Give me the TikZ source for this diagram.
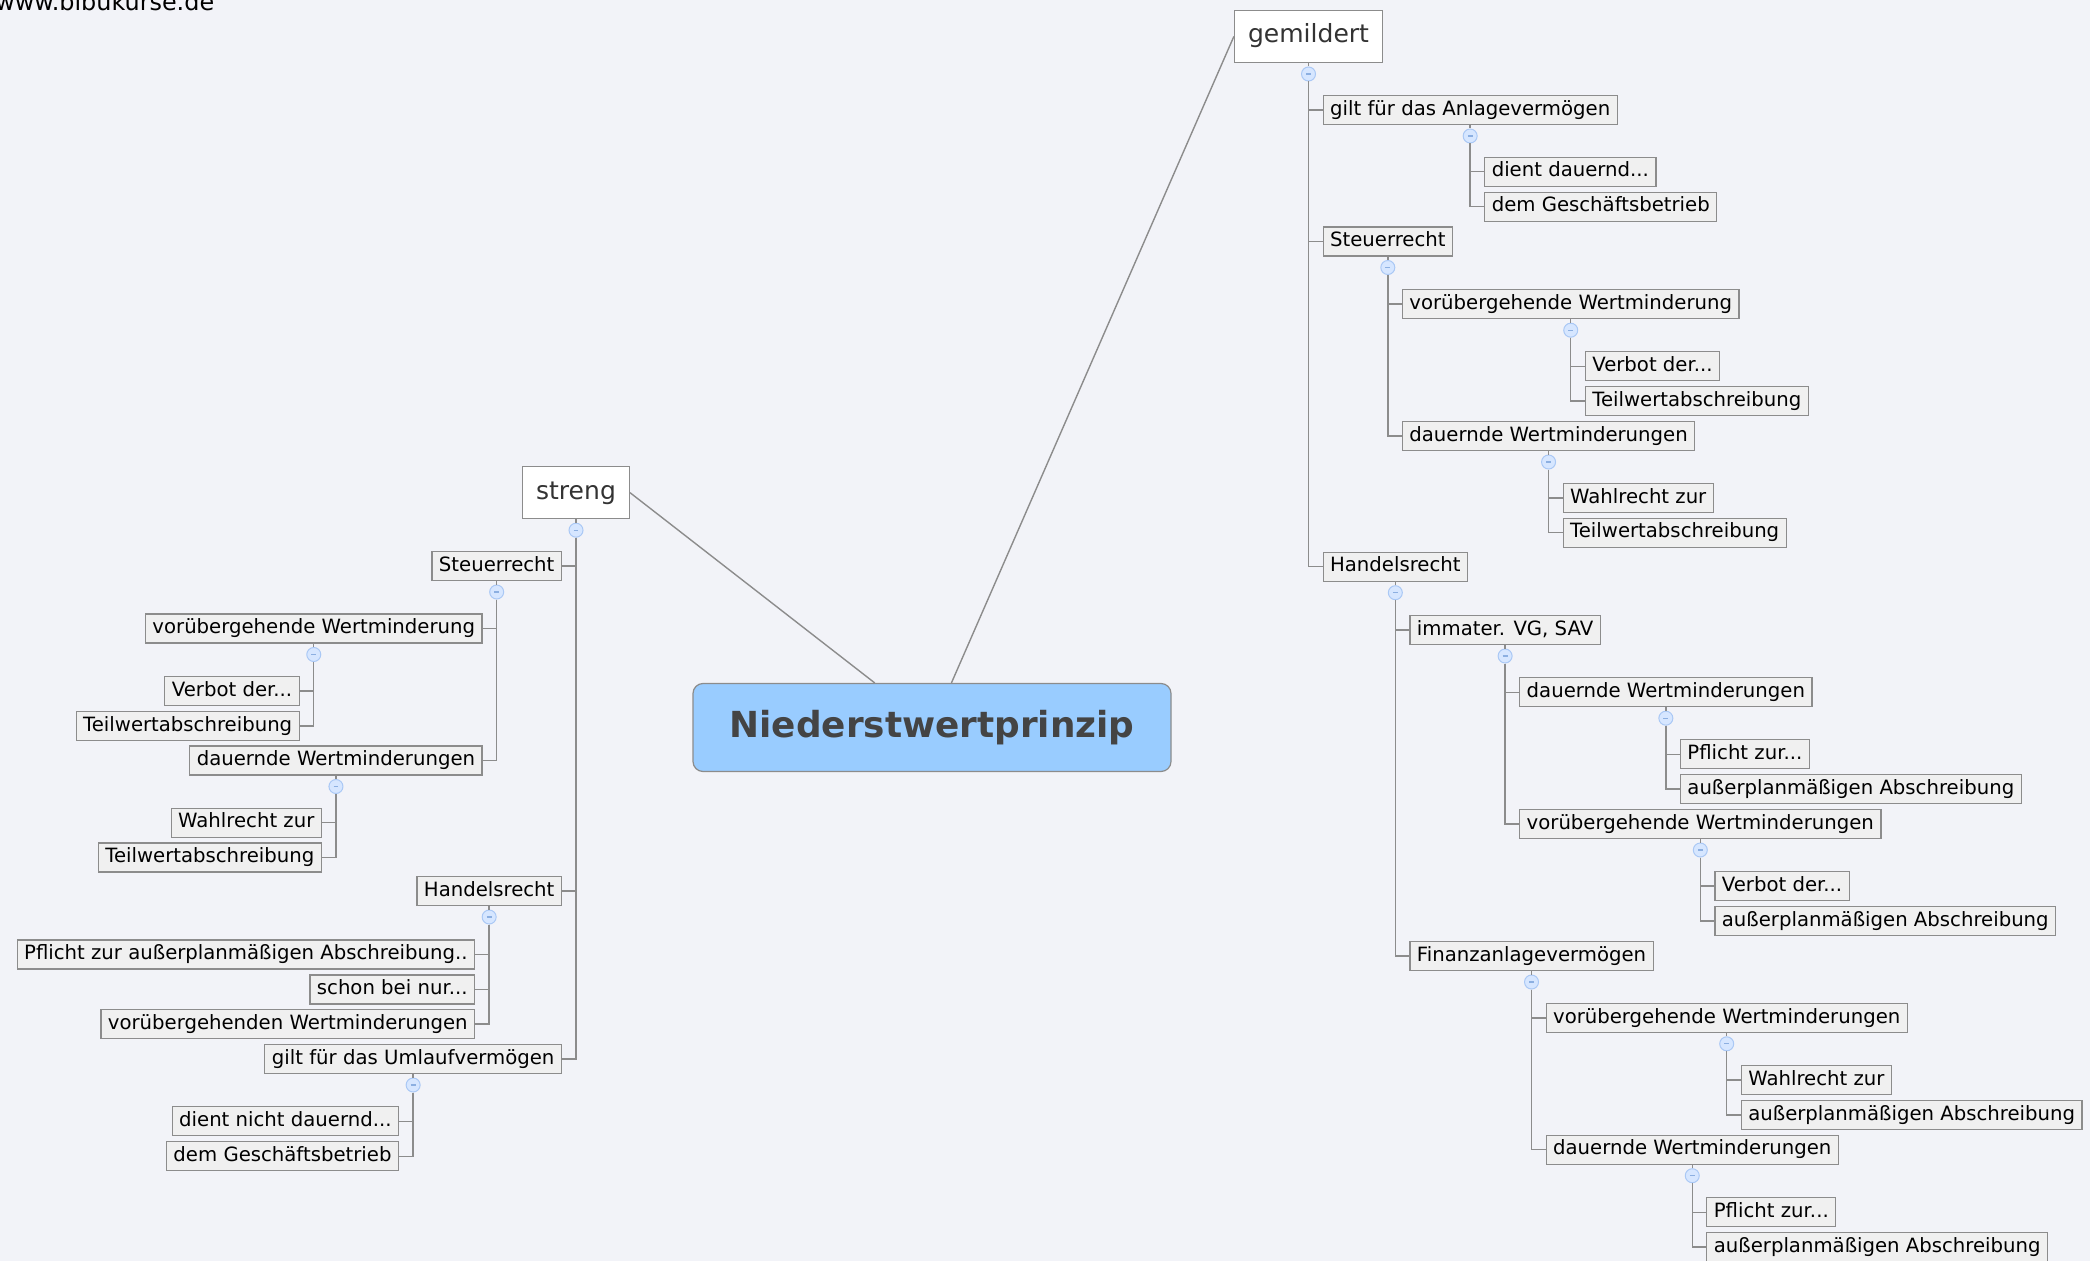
\documentclass[tikz,border=0pt]{standalone}
\usepackage{fontspec}
\setmainfont{DejaVu Sans}
\usetikzlibrary{positioning}
\definecolor{bgcol}{RGB}{242,243,248}
\definecolor{linecol}{RGB}{140,140,140}
\definecolor{leafcol}{RGB}{240,240,240}
\definecolor{rootcol}{RGB}{153,204,255}
\definecolor{roottext}{RGB}{68,68,68}
\definecolor{topictext}{RGB}{51,51,51}
\definecolor{foldcol}{RGB}{214,230,255}
\definecolor{foldline}{RGB}{170,200,245}
\definecolor{foldmark}{RGB}{140,175,225}
\tikzset{
    leaf/.style={draw=linecol, fill=leafcol, line width=0.3mm, inner xsep=1.75mm, inner ysep=0mm, minimum height=7.25mm, text height=3.7mm, text depth=1.1mm, font=\fontsize{14pt}{17pt}\selectfont},
    topic/.style={draw=linecol, fill=white, line width=0.3mm, inner xsep=3.4mm, inner ysep=0mm, minimum height=13mm, text height=4.7mm, text depth=1.5mm, text=topictext, font=\fontsize{17.8pt}{21pt}\selectfont},
    rootbox/.style={draw=linecol, fill=rootcol, rounded corners=2.5mm, line width=0.3mm, minimum width=119.5mm, minimum height=22mm, text=roottext, font=\fontsize{25.5pt}{30pt}\selectfont\bfseries},
    fold/.style={circle, draw=foldline, fill=foldcol, line width=0.25mm, minimum size=3.5mm, inner sep=0pt, path picture={\draw[foldmark, line width=0.3mm] ([xshift=-0.6mm]path picture bounding box.center) -- ([xshift=0.6mm]path picture bounding box.center);}},
    link/.style={draw=linecol, line width=0.35mm},
    weblabel/.style={anchor=base west, inner sep=0pt, font=\fontsize{17pt}{20pt}\selectfont}
}
\begin{document}
\begin{tikzpicture}[x=0.25mm, y=-0.25mm]
            \useasboundingbox (0,0) rectangle (2090,1261);
            \clip (0,0) rectangle (2090,1261);
            \fill[bgcol] (0,0) rectangle (2090,1261);

            \node[weblabel] (W) at (-5,11) {www.bibukurse.de};
            \node[rootbox] (N) at (932,727.5) {Niederstwertprinzip};
            \node[topic] (S) at (576,492.7) {streng};
            \node[topic] (G) at (1308.5,36.5) {gemildert};

            \node[fold, below=0.85mm of S] (FS) {};
            \node[leaf, anchor=east, xshift=-3.5mm] (S1) at (FS |- 0,566) {Steuerrecht};
            \node[fold, below=0.85mm of S1] (FS1) {};
            \node[leaf, anchor=east, xshift=-3.5mm] (S11) at (FS1 |- 0,628.5) {vorübergehende Wertminderung};
            \node[fold, below=0.85mm of S11] (FS11) {};
            \node[leaf, anchor=east, xshift=-3.5mm] (S111) at (FS11 |- 0,691) {Verbot der...};
            \node[leaf, anchor=east, xshift=-3.5mm] (S112) at (FS11 |- 0,726) {Teilwertabschreibung};
            \node[leaf, anchor=east, xshift=-3.5mm] (S12) at (FS1 |- 0,760.5) {dauernde Wertminderungen};
            \node[fold, below=0.85mm of S12] (FS12) {};
            \node[leaf, anchor=east, xshift=-3.5mm] (S121) at (FS12 |- 0,822.7) {Wahlrecht zur\ };
            \node[leaf, anchor=east, xshift=-3.5mm] (S122) at (FS12 |- 0,857.5) {Teilwertabschreibung};
            \node[leaf, anchor=east, xshift=-3.5mm] (S2) at (FS |- 0,891) {Handelsrecht};
            \node[fold, below=0.85mm of S2] (FS2) {};
            \node[leaf, anchor=east, xshift=-3.5mm] (S21) at (FS2 |- 0,954.5) {Pflicht zur außerplanmäßigen Abschreibung..};
            \node[leaf, anchor=east, xshift=-3.5mm] (S22) at (FS2 |- 0,989.5) {schon bei nur...};
            \node[leaf, anchor=east, xshift=-3.5mm] (S23) at (FS2 |- 0,1024) {vorübergehenden Wertminderungen};
            \node[leaf, anchor=east, xshift=-3.5mm] (S3) at (FS |- 0,1059) {gilt für das Umlaufvermögen};
            \node[fold, below=0.85mm of S3] (FS3) {};
            \node[leaf, anchor=east, xshift=-3.5mm] (S31) at (FS3 |- 0,1121.3) {dient nicht dauernd...};
            \node[leaf, anchor=east, xshift=-3.5mm] (S32) at (FS3 |- 0,1156.2) {dem Geschäftsbetrieb};

            \node[fold, below=0.85mm of G] (FG) {};
            \node[leaf, anchor=west, xshift=3.5mm] (G1) at (FG |- 0,110) {gilt für das Anlagevermögen};
            \node[fold, below=0.85mm of G1] (FG1) {};
            \node[leaf, anchor=west, xshift=3.5mm] (G11) at (FG1 |- 0,171.7) {dient dauernd...};
            \node[leaf, anchor=west, xshift=3.5mm] (G12) at (FG1 |- 0,206.7) {dem Geschäftsbetrieb};
            \node[leaf, anchor=west, xshift=3.5mm] (G2) at (FG |- 0,241.5) {Steuerrecht};
            \node[fold, below=0.85mm of G2] (FG2) {};
            \node[leaf, anchor=west, xshift=3.5mm] (G21) at (FG2 |- 0,304.2) {vorübergehende Wertminderung};
            \node[fold, below=0.85mm of G21] (FG21) {};
            \node[leaf, anchor=west, xshift=3.5mm] (G211) at (FG21 |- 0,366.2) {Verbot der...};
            \node[leaf, anchor=west, xshift=3.5mm] (G212) at (FG21 |- 0,401) {Teilwertabschreibung};
            \node[leaf, anchor=west, xshift=3.5mm] (G22) at (FG2 |- 0,436) {dauernde Wertminderungen};
            \node[fold, below=0.85mm of G22] (FG22) {};
            \node[leaf, anchor=west, xshift=3.5mm] (G221) at (FG22 |- 0,498) {Wahlrecht zur\ };
            \node[leaf, anchor=west, xshift=3.5mm] (G222) at (FG22 |- 0,532.7) {Teilwertabschreibung};
            \node[leaf, anchor=west, xshift=3.5mm] (G3) at (FG |- 0,566.7) {Handelsrecht};
            \node[fold, below=0.85mm of G3] (FG3) {};
            \node[leaf, anchor=west, xshift=3.5mm] (G31) at (FG3 |- 0,630) {immater. VG, SAV};
            \node[fold, below=0.85mm of G31] (FG31) {};
            \node[leaf, anchor=west, xshift=3.5mm] (G311) at (FG31 |- 0,692.2) {dauernde Wertminderungen};
            \node[fold, below=0.85mm of G311] (FG311) {};
            \node[leaf, anchor=west, xshift=3.5mm] (G3111) at (FG311 |- 0,754.3) {Pflicht zur...};
            \node[leaf, anchor=west, xshift=3.5mm] (G3112) at (FG311 |- 0,788.8) {außerplanmäßigen Abschreibung};
            \node[leaf, anchor=west, xshift=3.5mm] (G312) at (FG31 |- 0,824) {vorübergehende Wertminderungen};
            \node[fold, below=0.85mm of G312] (FG312) {};
            \node[leaf, anchor=west, xshift=3.5mm] (G3121) at (FG312 |- 0,886) {Verbot der...};
            \node[leaf, anchor=west, xshift=3.5mm] (G3122) at (FG312 |- 0,920.8) {außerplanmäßigen Abschreibung};
            \node[leaf, anchor=west, xshift=3.5mm] (G32) at (FG3 |- 0,956) {Finanzanlagevermögen};
            \node[fold, below=0.85mm of G32] (FG32) {};
            \node[leaf, anchor=west, xshift=3.5mm] (G321) at (FG32 |- 0,1017.8) {vorübergehende Wertminderungen};
            \node[fold, below=0.85mm of G321] (FG321) {};
            \node[leaf, anchor=west, xshift=3.5mm] (G3211) at (FG321 |- 0,1080) {Wahlrecht zur\ };
            \node[leaf, anchor=west, xshift=3.5mm] (G3212) at (FG321 |- 0,1115) {außerplanmäßigen Abschreibung};
            \node[leaf, anchor=west, xshift=3.5mm] (G322) at (FG32 |- 0,1149.7) {dauernde Wertminderungen};
            \node[fold, below=0.85mm of G322] (FG322) {};
            \node[leaf, anchor=west, xshift=3.5mm] (G3221) at (FG322 |- 0,1212.2) {Pflicht zur...};
            \node[leaf, anchor=west, xshift=3.5mm] (G3222) at (FG322 |- 0,1247) {außerplanmäßigen Abschreibung};

            \draw[link] (S.east) -- (N); \draw[link] (G.west) -- (N);
            \draw[link] (S) -- (FS); \draw[link] (FS) |- (S1.east); \draw[link] (FS) |- (S2.east); \draw[link] (FS) |- (S3.east);
            \draw[link] (S1) -- (FS1); \draw[link] (FS1) |- (S11.east); \draw[link] (FS1) |- (S12.east);
            \draw[link] (S11) -- (FS11); \draw[link] (FS11) |- (S111.east); \draw[link] (FS11) |- (S112.east);
            \draw[link] (S12) -- (FS12); \draw[link] (FS12) |- (S121.east); \draw[link] (FS12) |- (S122.east);
            \draw[link] (S2) -- (FS2); \draw[link] (FS2) |- (S21.east); \draw[link] (FS2) |- (S22.east); \draw[link] (FS2) |- (S23.east);
            \draw[link] (S3) -- (FS3); \draw[link] (FS3) |- (S31.east); \draw[link] (FS3) |- (S32.east);
            \draw[link] (G) -- (FG); \draw[link] (FG) |- (G1.west); \draw[link] (FG) |- (G2.west); \draw[link] (FG) |- (G3.west);
            \draw[link] (G1) -- (FG1); \draw[link] (FG1) |- (G11.west); \draw[link] (FG1) |- (G12.west);
            \draw[link] (G2) -- (FG2); \draw[link] (FG2) |- (G21.west); \draw[link] (FG2) |- (G22.west);
            \draw[link] (G21) -- (FG21); \draw[link] (FG21) |- (G211.west); \draw[link] (FG21) |- (G212.west);
            \draw[link] (G22) -- (FG22); \draw[link] (FG22) |- (G221.west); \draw[link] (FG22) |- (G222.west);
            \draw[link] (G3) -- (FG3); \draw[link] (FG3) |- (G31.west); \draw[link] (FG3) |- (G32.west);
            \draw[link] (G31) -- (FG31); \draw[link] (FG31) |- (G311.west); \draw[link] (FG31) |- (G312.west);
            \draw[link] (G311) -- (FG311); \draw[link] (FG311) |- (G3111.west); \draw[link] (FG311) |- (G3112.west);
            \draw[link] (G312) -- (FG312); \draw[link] (FG312) |- (G3121.west); \draw[link] (FG312) |- (G3122.west);
            \draw[link] (G32) -- (FG32); \draw[link] (FG32) |- (G321.west); \draw[link] (FG32) |- (G322.west);
            \draw[link] (G321) -- (FG321); \draw[link] (FG321) |- (G3211.west); \draw[link] (FG321) |- (G3212.west);
            \draw[link] (G322) -- (FG322); \draw[link] (FG322) |- (G3221.west); \draw[link] (FG322) |- (G3222.west);
\end{tikzpicture}
\end{document}
